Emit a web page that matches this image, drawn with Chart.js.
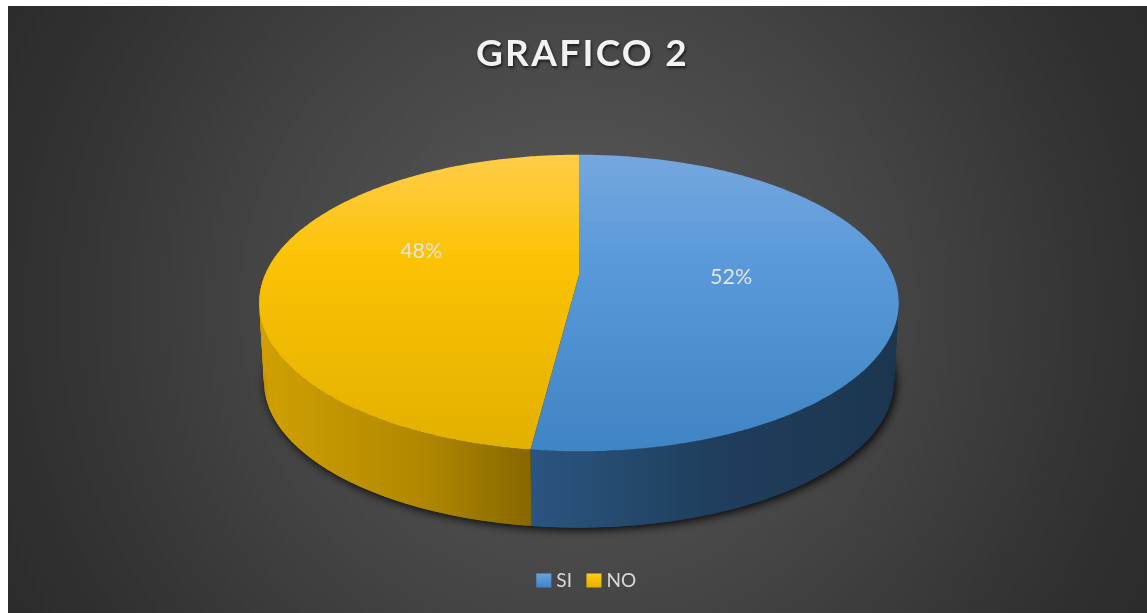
<!DOCTYPE html>
<html><head><meta charset="utf-8">
<style>html,body{margin:0;padding:0;background:#fff;width:1147px;height:613px;overflow:hidden}
#w{position:absolute;left:8px;top:6px;width:1139px;height:607px}</style>
<script src="https://cdn.jsdelivr.net/npm/chart.js@4/dist/chart.umd.js"></script>
</head><body><div id="w"><canvas id="c" width="1139" height="607"></canvas></div>
<script>
const categories = ['SI', 'NO'];
const values = [52, 48];
const percentLabels = ['52%', '48%'];
const titleText = 'GRAFICO 2';
const baseColors = ['#5B9BD5', '#FFC000'];

// view of the tilted disc (canvas pixels)
const view = {cx:571, cy:269, ky:143/314, a:0.189, dropY:79, shrink:0.985};
const faceStops = {
  '#5B9BD5':[[0,'#76a7de'],[0.35,'#5a9ada'],[1,'#3f84c4']],
  '#FFC000':[[0,'#ffcd4a'],[0.35,'#fcc304'],[1,'#e2b000']]
};
const sideStops = {
  '#5B9BD5':[[0,'#2a5580'],[0.25,'#254a6e'],[0.5,'#1f3e5c'],[1,'#1c3650']],
  '#FFC000':[[0,'#d0a002'],[0.6,'#b08700'],[1,'#876800']]
};
const labelOffsets = [[-5.5,-2],[-2,-19]];
const FONT = 'Lato, Carlito, Calibri, sans-serif';

function project(R, ang, r, lower){
  const u = Math.cos(ang)*r, v = Math.sin(ang)*r;
  const w = 1/(1 - view.a*v);
  const s = lower ? view.shrink : 1;
  return {x:view.cx + R*u*w*s, y:view.cy + (lower?view.dropY:0) + R*view.ky*v*w*s};
}
function rim(ctx, R, a0, a1, lower, first){
  const n = Math.max(2, Math.ceil(Math.abs(a1-a0)/0.01));
  for(let i=0;i<=n;i++){
    const p = project(R, a0+(a1-a0)*i/n, 1, lower);
    if(i===0 && first) ctx.moveTo(p.x,p.y); else ctx.lineTo(p.x,p.y);
  }
}
function grad(ctx, x0,y0,x1,y1, stops){
  const g = ctx.createLinearGradient(x0,y0,x1,y1);
  stops.forEach(s=>g.addColorStop(s[0],s[1]));
  return g;
}

// The library's arcs are drawn through the tilted view.
const ArcProto = Chart.ArcElement.prototype;
ArcProto.draw = function(ctx){
  const R = this.outerRadius, key = this.options.backgroundColor;
  const a0 = this.startAngle, a1 = this.endAngle;
  const e0 = Math.max(a0, 0), e1 = Math.min(a1, Math.PI);
  const s0 = Math.max(a0, -0.35), s1 = Math.min(a1, Math.PI+0.35);
  ctx.save();
  if(s1 > s0){
    const xa = project(R,e0,1,false).x, xb = project(R,e1,1,false).x;
    const stops = xa > xb ? sideStops[key].map(s=>[1-s[0],s[1]]).reverse() : sideStops[key];
    ctx.fillStyle = grad(ctx, Math.min(xa,xb),0,Math.max(xa,xb),0, key==='#5B9BD5' ? sideStops[key] : sideStops[key]);
    const step = 0.01, n = Math.ceil((s1-s0)/step);
    for(let i=0;i<n;i++){
      const b0 = s0+(s1-s0)*i/n, b1 = s0+(s1-s0)*Math.min(i+2,n)/n;
      const p = project(R,b0,1,false), q = project(R,b1,1,false);
      const r = project(R,b1,1,true), t = project(R,b0,1,true);
      ctx.beginPath();
      ctx.moveTo(p.x,p.y); ctx.lineTo(q.x,q.y); ctx.lineTo(r.x,r.y); ctx.lineTo(t.x,t.y);
      ctx.closePath(); ctx.fill();
    }
  }
  const top = project(R,-Math.PI/2,1,false).y, bot = project(R,Math.PI/2,1,false).y;
  ctx.fillStyle = grad(ctx,0,top,0,bot,faceStops[key]);
  ctx.beginPath();
  ctx.moveTo(view.cx, view.cy);
  rim(ctx,R,a0,a1,false,false);
  ctx.closePath(); ctx.fill();
  ctx.restore();
};

const pie3d = {
  id:'pie3d',
  beforeDraw(chart){
    const ctx = chart.ctx, W = chart.width, H = chart.height;
    const g = ctx.createRadialGradient(570,300,0,570,300,640);
    g.addColorStop(0,'#5c5c5c'); g.addColorStop(0.5,'#444444'); g.addColorStop(0.875,'#303030'); g.addColorStop(1,'#2c2c2c');
    ctx.save(); ctx.fillStyle = g; ctx.fillRect(0,0,W,H); ctx.restore();
    const t = chart.titleBlock;
    if(t && !t._wrapped){
      const d = t.draw;
      t.draw = function(){
        ctx.save();
        ctx.letterSpacing = '2.3px';
        ctx.shadowColor = 'rgba(0,0,0,0.65)'; ctx.shadowBlur = 3; ctx.shadowOffsetX = 1; ctx.shadowOffsetY = 2;
        ctx.translate(5,0);
        d.call(this);
        ctx.restore();
      };
      t._wrapped = true;
    }
    const l = chart.legend;
    if(l && !l._wrapped){
      const d = l.draw;
      l.draw = function(){
        const ft = ctx.fillText;
        ctx.save();
        ctx.translate(11,0);
        ctx.fillText = function(s,x,y,m){ return m===undefined ? ft.call(ctx,s,x-4.5,y) : ft.call(ctx,s,x-4.5,y,m); };
        d.call(this);
        delete ctx.fillText;
        ctx.restore();
      };
      l._wrapped = true;
    }
  },
  beforeDatasetsDraw(chart){
    const ctx = chart.ctx, el = chart.getDatasetMeta(0).data[0], R = el.outerRadius;
    ctx.save();
    ctx.shadowColor = 'rgba(0,0,0,0.95)'; ctx.shadowBlur = 10; ctx.shadowOffsetX = 2; ctx.shadowOffsetY = 2;
    ctx.fillStyle = '#000';
    ctx.beginPath();
    rim(ctx,R,0,Math.PI*2,true,true);
    ctx.closePath(); ctx.fill();
    ctx.restore();
  },
  afterDatasetsDraw(chart){
    const ctx = chart.ctx;
    ctx.save();
    ctx.font = '21.5px '+FONT; ctx.fillStyle = '#e3e3e3';
    ctx.textAlign = 'center'; ctx.textBaseline = 'middle';
    chart.getDatasetMeta(0).data.forEach((el,i)=>{
      const p = project(el.outerRadius,(el.startAngle+el.endAngle)/2,0.5,false);
      ctx.fillText(percentLabels[i], p.x+labelOffsets[i][0], p.y+labelOffsets[i][1]);
    });
    ctx.restore();
  }
};

new Chart(document.getElementById('c'),{
  type:'pie',
  data:{labels:categories,datasets:[{data:values,backgroundColor:baseColors,borderWidth:0,clip:false}]},
  options:{
    responsive:false, animation:false, events:[], radius:314,
    layout:{padding:{bottom:13}},
    plugins:{
      tooltip:{enabled:false},
      title:{display:true,text:titleText,color:'#f2f2f2',
        font:{family:FONT,size:37,weight:'bold'},padding:{top:26,bottom:10}},
      legend:{position:'bottom',
        labels:{color:'#d9d9d9',font:{family:FONT,size:19},boxWidth:15,boxHeight:14,padding:10,
          generateLabels(chart){
            const ctx = chart.ctx;
            return categories.map((c,i)=>({text:c,
              fillStyle:grad(ctx,0,566,0,582,faceStops[baseColors[i]]),
              strokeStyle:'transparent',lineWidth:0,fontColor:'#d9d9d9',index:i}));
          }}}
    }
  },
  plugins:[pie3d]
});
</script></body></html>
